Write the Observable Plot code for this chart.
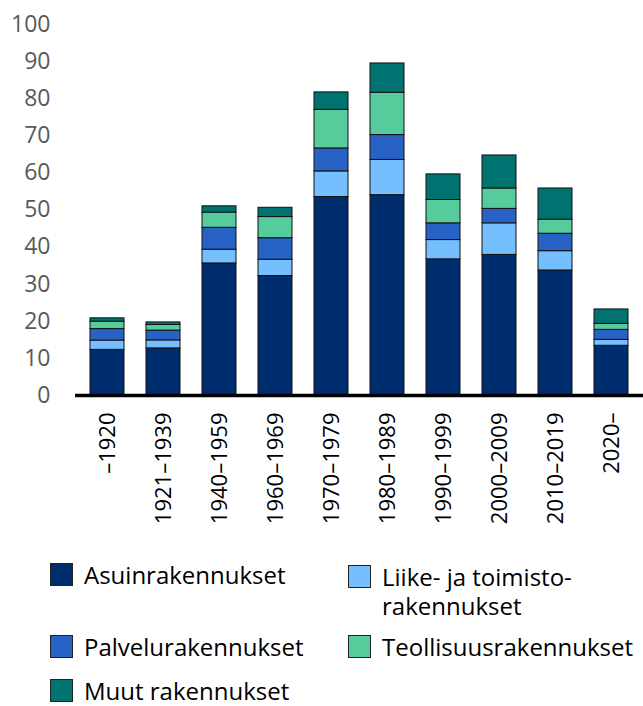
<!DOCTYPE html>
<html>
<head>
<meta charset="utf-8">
<script src="https://cdn.jsdelivr.net/npm/d3@7"></script>
<script src="https://cdn.jsdelivr.net/npm/@observablehq/plot@0.6"></script>
<style>
  html, body { margin: 0; padding: 0; background: #fff; }
  #wrap { position: relative; width: 643px; height: 706px; font-family: "Open Sans", sans-serif; overflow: hidden; }
  .leg { position: absolute; display: flex; align-items: flex-start; font-size: 24px; color: #000; line-height: 29px; white-space: nowrap; }
  .sw { width: 21px; height: 21px; border: 1px solid #222; margin-right: 11px; margin-top: 3px; flex: none; }
</style>
</head>
<body>
<div id="wrap"><div id="chart"></div></div>
<script>
const periods = ["–1920", "1921–1939", "1940–1959", "1960–1969", "1970–1979", "1980–1989", "1990–1999", "2000–2009", "2010–2019", "2020–"];
const seriesNames = ["Asuinrakennukset", "Liike- ja toimistorakennukset", "Palvelurakennukset", "Teollisuusrakennukset", "Muut rakennukset"];
const seriesColors = ["#002D6E", "#75BFFF", "#2862C4", "#56CC9D", "#007370"];
const asuin    = [12.3, 12.7, 35.6, 32.2, 53.5, 54.0, 36.7, 37.9, 33.7, 13.4];
const liike    = [2.5, 2.15, 3.7, 4.4, 6.9, 9.5, 5.2, 8.5, 5.2, 1.6];
const palvelu  = [3.1, 2.65, 5.9, 5.8, 6.2, 6.7, 4.5, 3.9, 4.7, 2.7];
const teoll    = [2.0, 1.5, 4.1, 5.7, 10.4, 11.4, 6.3, 5.5, 3.8, 1.6];
const muut     = [0.9, 0.7, 1.7, 2.5, 4.7, 7.9, 6.9, 8.9, 8.4, 3.9];
const yTicks = [0, 10, 20, 30, 40, 50, 60, 70, 80, 90, 100];

const seriesValues = [asuin, liike, palvelu, teoll, muut];
const rows = [];
seriesNames.forEach((s, si) => periods.forEach((p, pi) => rows.push({period: p, series: s, value: seriesValues[si][pi]})));

const chart = Plot.plot({
  width: 643,
  height: 540,
  marginLeft: 75,
  marginRight: 0,
  marginTop: 24,
  marginBottom: 145,
  style: { fontFamily: "Open Sans, sans-serif", background: "#fff" },
  x: { domain: periods, paddingInner: 0.4, paddingOuter: 0.2, label: null },
  y: { domain: [0, 100], ticks: yTicks, label: null },
  color: { domain: seriesNames, range: seriesColors },
  marks: [
    Plot.gridY(yTicks, { stroke: "#d9d9d9", strokeWidth: 2, strokeOpacity: 1, x1: 0 }),
    Plot.barY(rows, { x: "period", y: "value", fill: "series", order: seriesNames, stroke: "#111", strokeWidth: 1 }),
    Plot.ruleY([0], { stroke: "#000", strokeWidth: 3.5 }),
    Plot.axisY({ ticks: yTicks, tickSize: 0, tickPadding: 25, fontSize: 23, fill: "#595959", label: null }),
    Plot.axisX({ tickSize: 0, tickPadding: 17, tickRotate: -90, fontSize: 22, fill: "#000", label: null })
  ]
});
document.getElementById("chart").appendChild(chart);

const wrap = document.getElementById("wrap");
const legendItems = [
  { i: 0, x: 50, y: 560, html: "Asuinrakennukset" },
  { i: 1, x: 348, y: 562, html: "Liike- ja toimisto-<br>rakennukset" },
  { i: 2, x: 50, y: 632, html: "Palvelurakennukset" },
  { i: 3, x: 348, y: 632, html: "Teollisuusrakennukset" },
  { i: 4, x: 50, y: 676, html: "Muut rakennukset" }
];
legendItems.forEach(it => {
  const d = document.createElement("div");
  d.className = "leg";
  d.style.left = it.x + "px";
  d.style.top = it.y + "px";
  d.innerHTML = `<span class="sw" style="background:${seriesColors[it.i]}"></span><span>${it.html}</span>`;
  wrap.appendChild(d);
});
</script>
</body>
</html>
